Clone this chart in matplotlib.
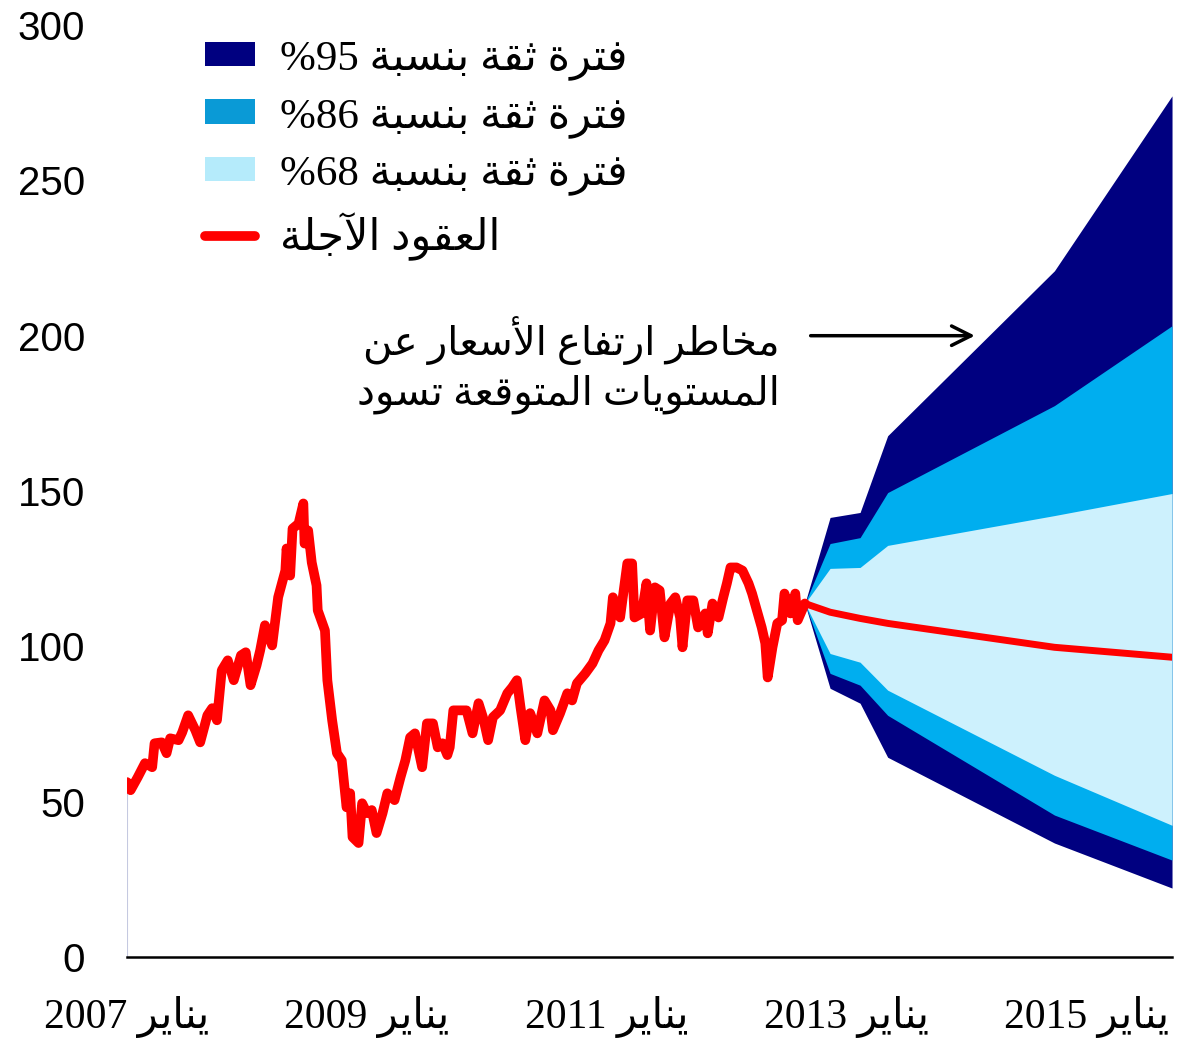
import matplotlib
matplotlib.use("Agg")
import matplotlib.pyplot as plt
from matplotlib.patches import Patch
from matplotlib.lines import Line2D
from matplotlib.font_manager import FontProperties

## Data: oil price (weekly-ish) and fan chart around futures
hist_dates = [2007.00, 2007.03, 2007.09, 2007.15, 2007.21, 2007.23, 2007.29, 2007.33, 2007.36, 2007.43,
              2007.46, 2007.51, 2007.57, 2007.61, 2007.67, 2007.71, 2007.75, 2007.79, 2007.84, 2007.89,
              2007.95, 2007.99, 2008.03, 2008.08, 2008.11, 2008.15, 2008.21, 2008.26, 2008.32, 2008.33,
              2008.36, 2008.38, 2008.43, 2008.47, 2008.48, 2008.51, 2008.54, 2008.58, 2008.59, 2008.65,
              2008.67, 2008.71, 2008.75, 2008.79, 2008.83, 2008.86, 2008.88, 2008.93, 2008.96, 2009.00,
              2009.04, 2009.08, 2009.13, 2009.17, 2009.23, 2009.28, 2009.32, 2009.36, 2009.40, 2009.46,
              2009.50, 2009.55, 2009.59, 2009.63, 2009.67, 2009.69, 2009.72, 2009.78, 2009.83, 2009.88,
              2009.93, 2009.97, 2010.01, 2010.05, 2010.11, 2010.17, 2010.21, 2010.25, 2010.28, 2010.32,
              2010.36, 2010.42, 2010.48, 2010.53, 2010.55, 2010.61, 2010.67, 2010.71, 2010.75, 2010.82,
              2010.88, 2010.93, 2010.98, 2011.03, 2011.05, 2011.11, 2011.17, 2011.21, 2011.23, 2011.29,
              2011.33, 2011.36, 2011.40, 2011.44, 2011.48, 2011.53, 2011.57, 2011.61, 2011.63, 2011.67,
              2011.72, 2011.76, 2011.82, 2011.84, 2011.88, 2011.93, 2011.97, 2012.00, 2012.03, 2012.08,
              2012.13, 2012.18, 2012.21, 2012.25, 2012.29, 2012.32, 2012.34, 2012.38, 2012.42, 2012.46,
              2012.48, 2012.53, 2012.57, 2012.59, 2012.65]
hist_prices = [56.3, 53.7, 57.9, 62.4, 61.1, 68.8, 69.1, 65.6, 70.4, 69.8,
               72.3, 77.8, 73.0, 69.1, 77.8, 80.1, 76.2, 92.3, 95.5, 89.1,
               97.1, 98.1, 87.5, 93.9, 98.7, 106.8, 100.3, 115.8, 124.4, 131.5,
               122.8, 137.9, 139.5, 146.0, 133.1, 137.3, 127.0, 119.6, 111.6, 105.1,
               89.1, 76.2, 65.6, 63.3, 48.2, 52.7, 38.6, 36.7, 49.5, 46.3,
               47.3, 39.9, 46.3, 52.7, 50.5, 57.9, 63.3, 70.7, 72.0, 61.1,
               75.2, 75.2, 67.5, 68.8, 65.0, 67.5, 79.4, 79.4, 79.4, 72.0,
               81.7, 76.8, 69.8, 77.2, 79.4, 84.9, 86.8, 89.1, 80.4, 69.8,
               78.5, 72.0, 82.6, 79.4, 73.0, 78.5, 84.9, 82.6, 88.1, 91.3,
               94.5, 98.7, 101.9, 107.4, 115.8, 109.3, 126.7, 126.7, 109.3, 110.6,
               120.3, 105.1, 119.0, 118.0, 102.9, 113.8, 115.8, 109.3, 99.7, 114.8,
               114.8, 106.1, 110.6, 104.2, 113.8, 109.3, 115.8, 120.3, 125.4, 125.4,
               124.4, 120.3, 117.0, 111.6, 106.1, 101.0, 90.0, 99.7, 107.4, 108.4,
               117.0, 110.6, 117.0, 108.4, 113.8]

fc_dates = [2012.65, 2012.86, 2013.11, 2013.34, 2014.73, 2015.71]
futures = [113.8, 111.0, 109.0, 107.4, 99.7, 96.5]
hi95 = [113.8, 141.5, 143.1, 167.8, 220.9, 277.2]
hi86 = [113.8, 133.1, 135.0, 149.5, 177.5, 203.2]
hi68 = [113.8, 125.1, 125.4, 132.5, 142.1, 149.2]
lo68 = [113.8, 97.7, 94.9, 85.9, 58.5, 42.4]
lo86 = [113.8, 91.3, 87.5, 77.8, 45.7, 31.2]
lo95 = [113.8, 86.5, 81.7, 64.3, 36.7, 22.2]

year_ticks = [2007, 2009, 2011, 2013, 2015]
y_ticks = [0, 50, 100, 150, 200, 250, 300]

## Minimal Arabic shaping (presentation forms) so glyphs join and read right-to-left
D_BASE = {'ب': 0xFE8F, 'ت': 0xFE95, 'ث': 0xFE99, 'ج': 0xFE9D, 'ح': 0xFEA1, 'خ': 0xFEA5,
          'س': 0xFEB1, 'ش': 0xFEB5, 'ص': 0xFEB9, 'ض': 0xFEBD, 'ط': 0xFEC1, 'ظ': 0xFEC5,
          'ع': 0xFEC9, 'غ': 0xFECD, 'ف': 0xFED1, 'ق': 0xFED5, 'ك': 0xFED9, 'ل': 0xFEDD,
          'م': 0xFEE1, 'ن': 0xFEE5, 'ه': 0xFEE9, 'ي': 0xFEF1}
R_BASE = {'ا': 0xFE8D, 'أ': 0xFE83, 'إ': 0xFE87, 'آ': 0xFE81, 'ة': 0xFE93, 'د': 0xFEA9,
          'ذ': 0xFEAB, 'ر': 0xFEAD, 'ز': 0xFEAF, 'و': 0xFEED, 'ى': 0xFEEF, 'ؤ': 0xFE85,
          'لا': 0xFEFB, 'لأ': 0xFEF7, 'لإ': 0xFEF9, 'لآ': 0xFEF5}


def ar(s):
    units = []
    i = 0
    while i < len(s):
        if s[i] == 'ل' and s[i:i + 2] in R_BASE:
            units.append(s[i:i + 2])
            i += 2
        else:
            units.append(s[i])
            i += 1
    out = []
    for k, u in enumerate(units):
        base = D_BASE.get(u, R_BASE.get(u))
        if base is None:
            out.append(u)
            continue
        prev = units[k - 1] if k > 0 else ''
        nxt = units[k + 1] if k + 1 < len(units) else ''
        jp = prev in D_BASE
        jn = u in D_BASE and (nxt in D_BASE or nxt in R_BASE)
        out.append(chr(base + int(jp) + 2 * int(jn)))
    return ''.join(out)[::-1]


serif_ar = ['Liberation Serif', 'DejaVu Sans']

## Figure
fig = plt.figure(figsize=(11.9, 10.39), dpi=100)
ax = fig.add_axes([0.1067, 0.0789, 0.8782, 0.897])

navy = '#000080'
mid = '#00aeef'
light = '#cdf1fd'
red = '#ff0000'

ax.fill_between(fc_dates, lo95, hi95, color=navy, lw=0)
ax.fill_between(fc_dates, lo86, hi86, color=mid, lw=0)
ax.fill_between(fc_dates, lo68, hi68, color=light, lw=0)

ax.vlines(hist_dates[0], 0, hist_prices[0], color='#c5c9e0', lw=1.5)
ax.plot(hist_dates, hist_prices, color=red, lw=7, solid_joinstyle='round', solid_capstyle='round')
ax.plot(fc_dates, futures, color=red, lw=5, solid_capstyle='round')

ax.set_xlim(2007.0, 2015.71)
ax.set_ylim(0, 300)
for s in ['top', 'right', 'left']:
    ax.spines[s].set_visible(False)
ax.spines['bottom'].set_linewidth(1.8)

ax.set_yticks(y_ticks)
ax.set_yticklabels([str(v) for v in y_ticks], fontsize=29, family='Liberation Sans')
ax.set_xticks(year_ticks)
ax.set_xticklabels([f"{y} {ar('يناير')}" for y in year_ticks], fontsize=30, family=serif_ar)
ax.tick_params(axis='y', length=0, pad=30)
ax.tick_params(axis='x', length=0, pad=28)

# Annotation with arrow
ax.annotate('', xy=(2014.09, 200.0), xytext=(2012.675, 200.0),
            arrowprops=dict(arrowstyle='->', lw=2.5, color='black', mutation_scale=35))
ax.text(2012.44, 190.5, ar('مخاطر ارتفاع الأسعار عن') + '\n' + ar('المستويات المتوقعة تسود'),
        ha='right', va='center', multialignment='right', fontsize=29, family=serif_ar,
        linespacing=1.3)

# Legend
handles = [Patch(facecolor=navy), Patch(facecolor='#0a9ad6'), Patch(facecolor='#b5ebfb'),
           Line2D([0], [0], color=red, lw=7, solid_capstyle='round')]
labels = [f"%95 {ar('فترة ثقة بنسبة')}", f"%86 {ar('فترة ثقة بنسبة')}",
          f"%68 {ar('فترة ثقة بنسبة')}", ar('العقود الآجلة')]
ax.legend(handles, labels, loc='upper left', bbox_to_anchor=(0.0746, 0.984),
          frameon=False, borderpad=0, borderaxespad=0,
          prop=FontProperties(family=serif_ar, size=31),
          handlelength=1.16, handleheight=0.5, handletextpad=0.58, labelspacing=0.4)

fig.savefig('out.png', dpi=100)
